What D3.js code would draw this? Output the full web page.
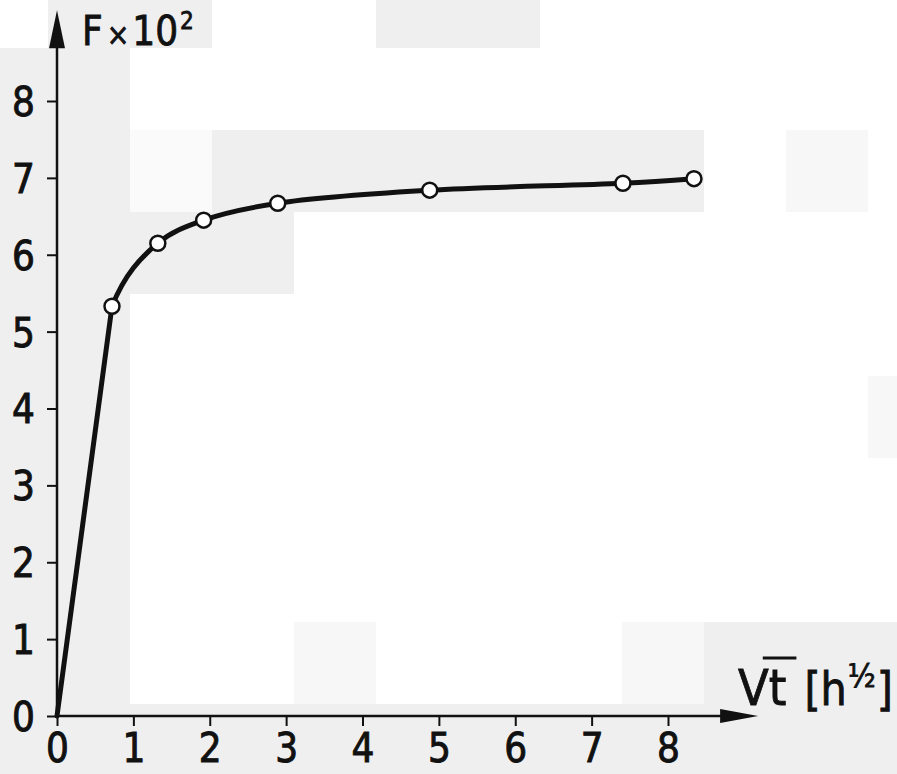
<!DOCTYPE html>
<html>
<head>
<meta charset="utf-8">
<script src="https://cdn.jsdelivr.net/npm/d3@7"></script>
<style>
  html, body { margin: 0; padding: 0; background: #fff; }
  svg { display: block; }
  text { font-family: "DejaVu Sans Condensed", "DejaVu Sans", sans-serif; fill: #111; }
</style>
</head>
<body>
<svg id="chart" width="897" height="774"></svg>
<script>
// ---- data ----
const xTicks = [0, 1, 2, 3, 4, 5, 6, 7, 8];
const yTicks = [0, 1, 2, 3, 4, 5, 6, 7, 8];
const sqrtT  = [0.72, 1.32, 1.92, 2.89, 4.88, 7.41, 8.34];   // √t [h^1/2]
const F      = [5.33, 6.15, 6.45, 6.67, 6.84, 6.93, 6.99];   // F × 10²
const origin = [0, 0];
const axisMax = 9.18;

// decorative scan-shading blocks of the original figure [x0, y0, x1, y1, shade]
const scanShade = [
  [48, 0, 212, 48, "#efefef"], [376, 0, 540, 48, "#efefef"],
  [0, 48, 130, 774, "#efefef"], [130, 130, 212, 212, "#fafafa"],
  [212, 130, 704, 212, "#efefef"], [786, 130, 868, 212, "#f7f7f7"],
  [130, 212, 294, 294, "#efefef"], [868, 376, 897, 458, "#f7f7f7"],
  [294, 622, 376, 704, "#f7f7f7"], [622, 622, 704, 704, "#f7f7f7"],
  [704, 622, 897, 704, "#efefef"], [0, 704, 897, 774, "#efefef"]
];

const svg = d3.select("#chart");
svg.append("g").selectAll("rect").data(scanShade).join("rect")
  .attr("x", d => d[0]).attr("y", d => d[1])
  .attr("width", d => d[2] - d[0]).attr("height", d => d[3] - d[1])
  .attr("fill", d => d[4]);

const x = d3.scaleLinear().domain([0, 8]).range([57, 668]);
const y = d3.scaleLinear().domain([0, 8]).range([716, 101]);

const ink = "#111";
const fontFam = '"DejaVu Sans Condensed", "DejaVu Sans", sans-serif';

// axes
const xAxis = svg.append("g").attr("transform", `translate(0,${y(0)})`)
  .call(d3.axisBottom(x).tickValues(xTicks).tickSize(10).tickPadding(8).tickFormat(d3.format("d")));
const yAxis = svg.append("g").attr("transform", `translate(${x(0)},0)`)
  .call(d3.axisLeft(y).tickValues(yTicks).tickSize(10).tickPadding(12).tickFormat(d3.format("d")));
[xAxis, yAxis].forEach(g => {
  g.select(".domain").remove();
  g.selectAll(".tick line").attr("stroke", ink).attr("stroke-width", 2);
  g.selectAll(".tick text").attr("font-size", 40).attr("fill", ink)
    .attr("stroke", ink).attr("stroke-width", 0.9)
    .style("font-family", fontFam);
});
yAxis.selectAll(".tick text").attr("dy", "0.36em");

// axis lines with arrows
const tipX = x(axisMax), tipY = y(axisMax);
svg.append("line").attr("x1", x(0)).attr("y1", y(0)).attr("x2", tipX - 20).attr("y2", y(0))
  .attr("stroke", ink).attr("stroke-width", 2.5);
svg.append("line").attr("x1", x(0)).attr("y1", y(0)).attr("x2", x(0)).attr("y2", tipY + 20)
  .attr("stroke", ink).attr("stroke-width", 2.5);
svg.append("path")
  .attr("d", `M${tipX},${y(0)} L${tipX - 38},${y(0) - 7} L${tipX - 38},${y(0) + 7} Z`)
  .attr("fill", ink);
svg.append("path")
  .attr("d", `M${x(0)},${tipY} L${x(0) - 8},${tipY + 38} L${x(0) + 8},${tipY + 38} Z`)
  .attr("fill", ink);

// curve: straight rise from origin to first point, smooth through the rest
const pts = [origin].concat(sqrtT.map((v, i) => [v, F[i]]));
const line = d3.line().x(d => x(d[0])).y(d => y(d[1])).curve(d3.curveCatmullRom.alpha(0.5));
let dStr = line(pts);
const parts = dStr.split("C");
const firstSeg = parts[1].split(",");
parts[1] = "L" + firstSeg.slice(-2).join(",");
dStr = parts[0] + parts[1] + parts.slice(2).map(p => "C" + p).join("");
svg.append("path").attr("d", dStr)
  .attr("fill", "none").attr("stroke", ink).attr("stroke-width", 5)
  .attr("stroke-linejoin", "round").attr("stroke-linecap", "round");

svg.append("g").selectAll("circle").data(sqrtT.map((v, i) => [v, F[i]])).join("circle")
  .attr("cx", d => x(d[0])).attr("cy", d => y(d[1])).attr("r", 7.5)
  .attr("fill", "#fff").attr("stroke", ink).attr("stroke-width", 2.5);

// y title: F × 10²
const yt = svg.append("text").attr("x", x(0) + 25).attr("y", 45).attr("font-size", 40)
  .attr("stroke", ink).attr("stroke-width", 0.8);
yt.append("tspan").text("F");
yt.append("tspan").attr("font-size", 30).attr("dx", 4).text("×");
yt.append("tspan").attr("dx", 3).text("10");
yt.append("tspan").attr("font-size", 24).attr("dy", -16).attr("dx", 2).text("2");

// x title: √t [h½]
const xt = svg.append("text").attr("x", 738).attr("y", 705).attr("font-size", 50)
  .attr("stroke", ink).attr("stroke-width", 0.8);
xt.append("tspan").text("V");
const tSpan = xt.append("tspan").attr("dx", 0).text("t");
xt.append("tspan").attr("dx", 18).attr("font-size", 46).text("[h");
xt.append("tspan").attr("font-size", 32).attr("dy", -18).attr("dx", 1).text("½");
xt.append("tspan").attr("font-size", 46).attr("dy", 18).attr("dx", 1).text("]");
const tb = tSpan.node().getExtentOfChar(1 - 1);
svg.append("line").attr("x1", tb.x - 6).attr("x2", tb.x + tb.width + 10)
  .attr("y1", 658).attr("y2", 658).attr("stroke", ink).attr("stroke-width", 3);
</script>
</body>
</html>
